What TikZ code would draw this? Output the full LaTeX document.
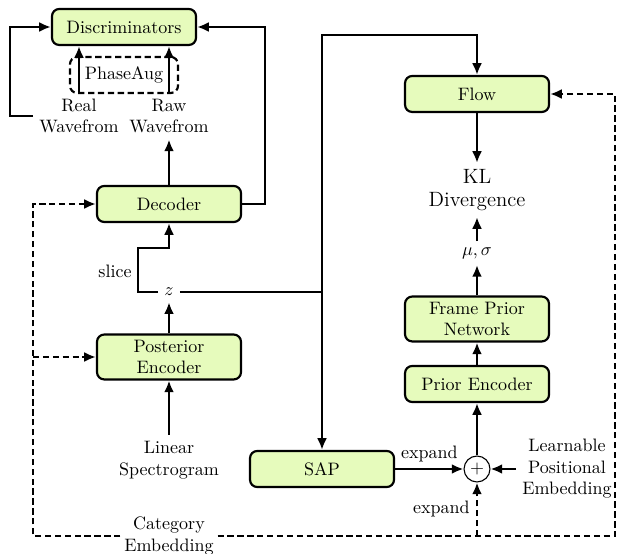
\documentclass[tikz,border=0pt]{standalone}
\usetikzlibrary{arrows.meta,calc}
\definecolor{boxfill}{RGB}{230,251,188}
\begin{document}
\begin{tikzpicture}[x=0.5556pt,y=-0.5556pt,
 box/.style={draw,line width=1.2pt,rounded corners=4pt,fill=boxfill,minimum width=80pt,minimum height=20pt,align=center,inner ysep=3pt},
 txt/.style={align=center},
 arr/.style={line width=1.6pt,-{Latex[length=6.5pt,width=5.5pt]}},
 ln/.style={line width=1.6pt},
 darr/.style={line width=1.6pt,dash pattern=on 3.5pt off 2pt,-{Latex[length=6.5pt,width=5.5pt]}},
 dln/.style={line width=1.6pt,dash pattern=on 3.5pt off 2pt}]
\useasboundingbox (0,0) rectangle (618,554);
% nodes
\node[box] (disc) at (124,27) {Discriminators};
\node[draw,line width=1.2pt,dash pattern=on 3.5pt off 2pt,rounded corners=4pt,minimum width=60pt,minimum height=20pt] (phase) at (124,75) {PhaseAug};
\node[txt] (real) at (79,116) {Real\\Wavefrom};
\node[txt] (raw) at (169,116) {Raw\\Wavefrom};
\node[box] (dec) at (169,204) {Decoder};
\node (z) at (169,292) {$z$};
\node (slice) at (115,271) {slice};
\node[box] (post) at (169,357) {Posterior\\Encoder};
\node[txt] (lin) at (169,460) {Linear\\Spectrogram};
\node[txt,fill=white,inner xsep=2pt] (cat) at (169,536) {Category\\Embedding};
\node[box] (flow) at (477,94) {Flow};
\node[txt,font=\fontsize{11.5}{12.8}\selectfont] (kl) at (477,190) {KL\\Divergence};
\node (mu) at (477,253) {$\mu,\sigma$};
\node[box] (frame) at (477,319) {Frame Prior\\Network};
\node[box] (prior) at (477,384) {Prior Encoder};
\node[box] (sap) at (322,469) {SAP};
\node[draw,circle,line width=0.6pt,minimum size=14.4pt,inner sep=0pt] (plus) at (477,469) {$+$};
\node[txt] (learn) at (567,469) {Learnable\\Positional\\Embedding};
\coordinate (j) at (322,292);
\coordinate (cl) at (33,536);
\coordinate (cr) at (615,536);
\coordinate (ce) at (477,536);
% solid connectors
\draw[arr] (real.north) -- (real.north |- disc.south);
\draw[arr] (raw.north) -- (raw.north |- disc.south);
\draw[arr] (real.west) -- (10,116) |- (disc.west);
\draw[arr] (dec.north) -- (raw.south);
\draw[arr] (dec.east) -- (265,204) |- (disc.east);
\draw[arr] (z.west) -| (138,248) -| (dec.south);
\draw[arr] (post.north) -- (z.south);
\draw[arr] (lin.north) -- (post.south);
\draw[arr] (z.east) -- (j) -- (sap.north);
\draw[arr] (j) -- (322,35) -| (flow.north);
\draw[arr] (flow.south) -- (kl.north);
\draw[arr] (mu.north) -- (kl.south);
\draw[arr] (frame.north) -- (mu.south);
\draw[arr] (prior.north) -- (frame.south);
\draw[arr] (plus.north) -- (prior.south);
\draw[arr] (sap.east) -- node[above] {expand} (plus.west);
\draw[arr] (learn.west) -- (plus.east);
% dashed connectors
\draw[darr] (cat.west) -- (cl) |- (dec.west);
\draw[darr] (cl |- post.west) -- (post.west);
\draw[darr] (cat.east) -- (cr) |- (flow.east);
\draw[darr] (ce) -- node[left] {expand} (plus.south);
\end{tikzpicture}
\end{document}
